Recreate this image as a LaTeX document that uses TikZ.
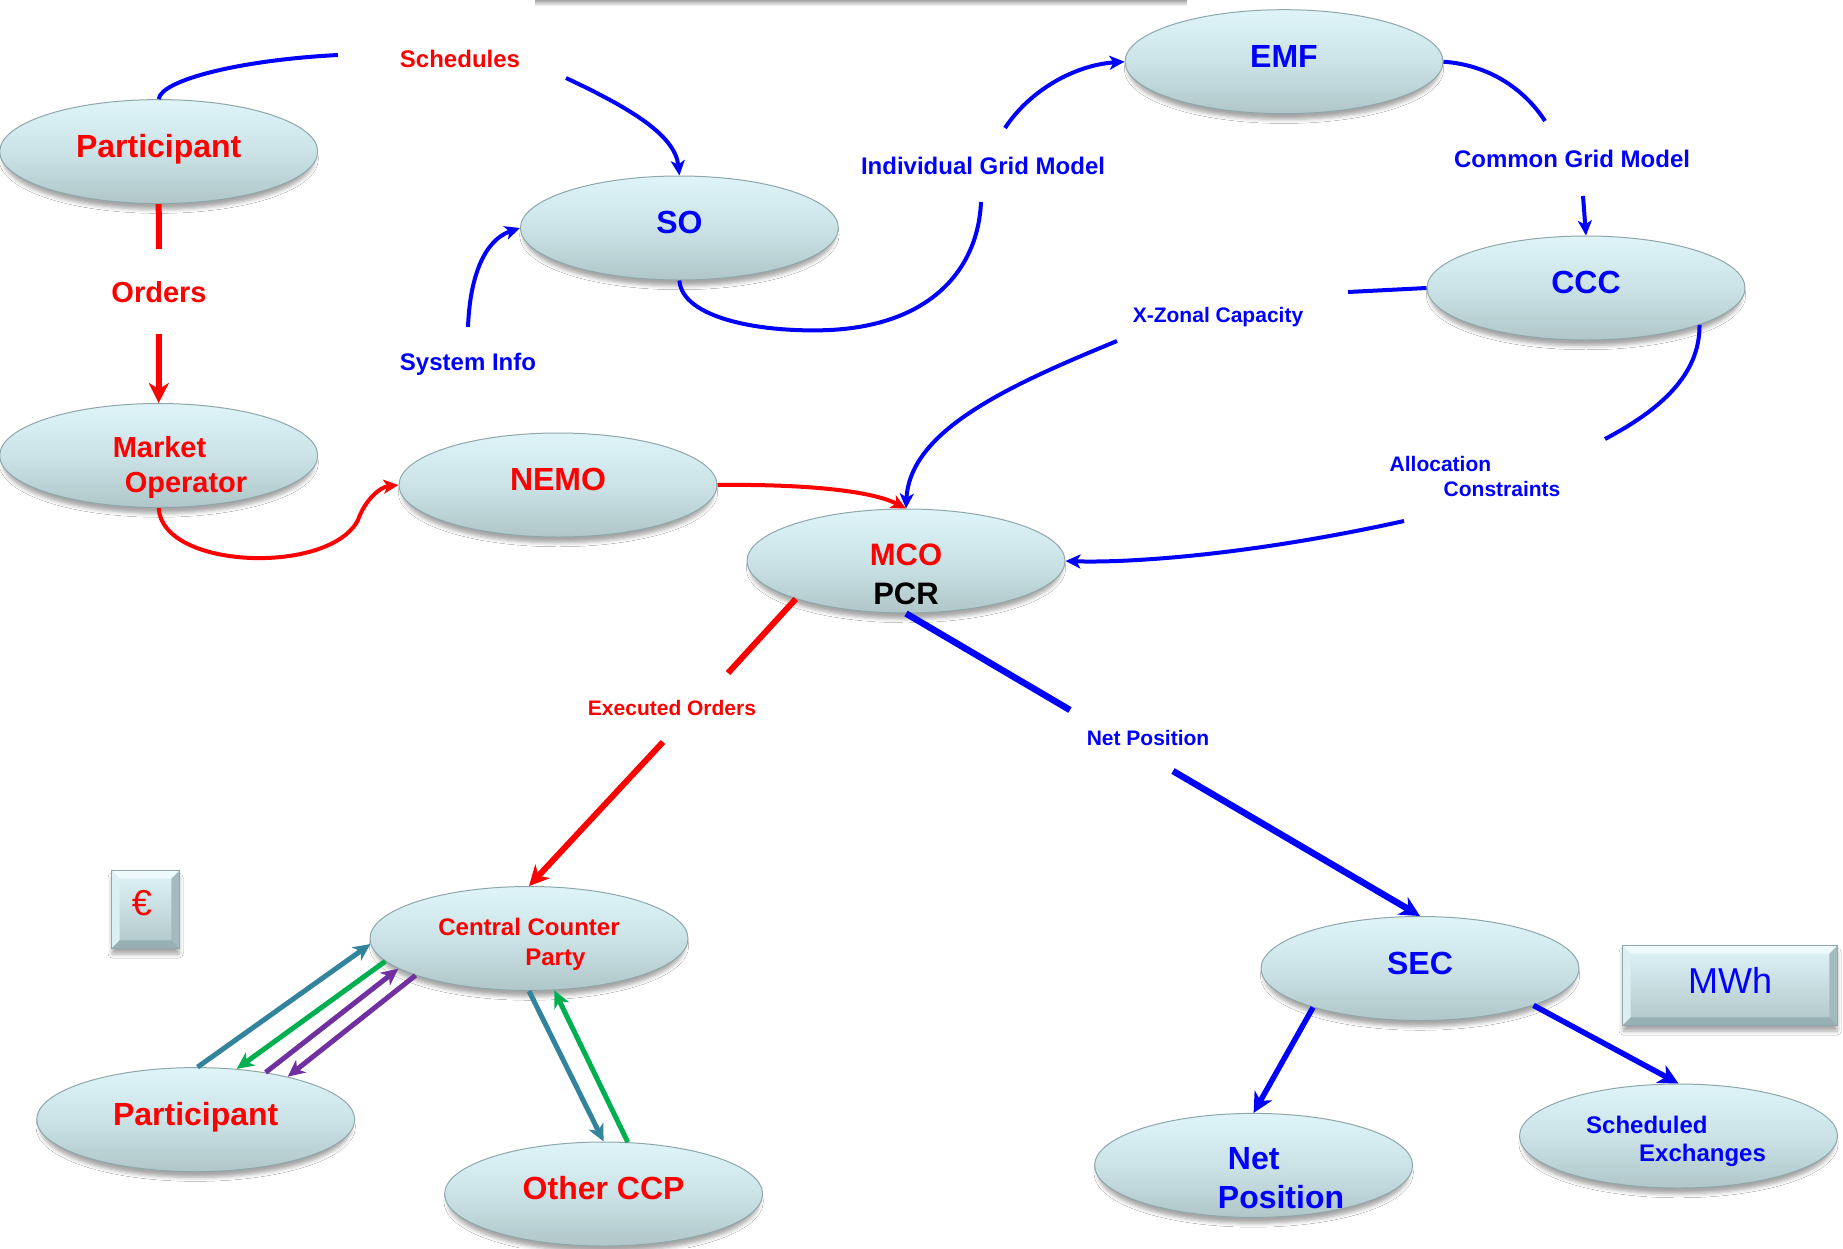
\documentclass[tikz,border=0pt]{standalone}
\usepackage{fontspec}
\setmainfont{Liberation Sans}
\usetikzlibrary{shapes.geometric,arrows.meta,shadows.blur}
\definecolor{myblue}{HTML}{0000FF}
\definecolor{myred}{HTML}{FF0000}
\definecolor{elltop}{HTML}{DEF4F8}
\definecolor{ellmid}{HTML}{CBE3E7}
\definecolor{ellbot}{HTML}{B0C6C9}
\definecolor{ellrim}{HTML}{8FA7AA}
\definecolor{bevlight}{HTML}{EEFAFC}
\definecolor{bevleft}{HTML}{DCF0F3}
\definecolor{bevright}{HTML}{A3BBBE}
\definecolor{bevbot}{HTML}{97B0B3}
\definecolor{tealc}{HTML}{31849B}
\definecolor{greenc}{HTML}{00B050}
\definecolor{purplec}{HTML}{7030A0}
\newcommand{\bevelbox}[2]{%
  \fill[bevlight] (#1.north west) -- (#1.north east) -- ([shift={(-#2,#2)}]#1.north east) -- ([shift={(#2,#2)}]#1.north west) -- cycle;
  \fill[bevleft] (#1.north west) -- (#1.south west) -- ([shift={(#2,-#2)}]#1.south west) -- ([shift={(#2,#2)}]#1.north west) -- cycle;
  \fill[bevright] (#1.north east) -- (#1.south east) -- ([shift={(-#2,-#2)}]#1.south east) -- ([shift={(-#2,#2)}]#1.north east) -- cycle;
  \fill[bevbot] (#1.south west) -- (#1.south east) -- ([shift={(-#2,-#2)}]#1.south east) -- ([shift={(#2,-#2)}]#1.south west) -- cycle;
  \draw[ellrim, line width=0.8pt] (#1.north west) rectangle (#1.south east);
}
\begin{document}
\begin{tikzpicture}[x=1pt,y=-1pt,
  ell/.style={ellipse, minimum width=318pt, minimum height=104pt, inner sep=0pt,
    draw=ellrim, line width=1pt, top color=elltop, bottom color=ellbot, middle color=ellmid,
    blur shadow={shadow xshift=0pt, shadow yshift=-7pt, shadow blur radius=4pt, shadow opacity=35, shadow scale=0.98},
    font=\fontsize{32}{38}\selectfont\bfseries, text height=23pt, text depth=12pt},
  boxs/.style={rectangle, draw=ellrim, line width=0.8pt, top color=elltop, bottom color=ellbot,
    inner sep=0pt, blur shadow={shadow xshift=0pt, shadow yshift=-6pt, shadow blur radius=4pt, shadow opacity=35},
    font=\fontsize{36}{40}\selectfont, text height=26pt, text depth=10pt},
  lbl/.style={inner sep=0pt, font=\fontsize{24}{29}\selectfont\bfseries, text height=17pt, text depth=0pt},
  lblsm/.style={inner sep=0pt, font=\fontsize{21}{25}\selectfont\bfseries, text height=15pt, text depth=0pt},
  lblml/.style={inner sep=0pt, align=left, font=\fontsize{21}{25}\selectfont\bfseries},
  bcon/.style={draw=myblue, line width=4pt},
  bthick/.style={draw=myblue, line width=6.5pt},
  bmid/.style={draw=myblue, line width=5.5pt},
  rcon/.style={draw=myred, line width=4pt},
  rthick/.style={draw=myred, line width=6pt},
  btip/.style={-{Stealth[length=15pt,width=14pt,inset=4pt]}},
  bigtip/.style={-{Stealth[length=20pt,width=20pt,inset=6pt]}},
  ctip/.style={-{Stealth[length=17pt,width=16pt,inset=5pt]}},
  tcon/.style={draw=tealc, line width=5pt, ctip},
  gcon/.style={draw=greenc, line width=5pt, ctip},
  pcon/.style={draw=purplec, line width=5pt, ctip}
]
\path[use as bounding box, fill=white] (0,0) rectangle (1843,1248);
\fill[top color=gray!70, bottom color=gray!15] (535,0) rectangle (1187,5);

% ellipse nodes
\node[ell, text=myred] (p1) at (158.7,151.6) {Participant};
\node[ell, text=myblue] (so) at (679.4,228) {SO};
\node[ell, text=myblue] (emf) at (1284,61.7) {EMF};
\node[ell, text=myblue] (ccc) at (1586,288) {CCC};
\node[ell] (mo) at (158.7,455.5) {};
\node[ell, text=myred] (nemo) at (558,485) {NEMO};
\node[ell] (mco) at (906,561) {};
\node[ell] (ccp) at (529,938.5) {};
\node[ell, text=myred] (p2) at (195.7,1119.6) {Participant};
\node[ell, text=myred] (occp) at (603.6,1194) {Other CCP};
\node[ell, text=myblue] (sec) at (1420,968.5) {SEC};
\node[ell] (np) at (1253.6,1165.4) {};
\node[ell] (se) at (1678.5,1136) {};

% multi-line node texts
\node[inner sep=0pt, align=left, text=myred, font=\fontsize{29}{35}\selectfont\bfseries] (mot) at (180,467.5) {Market\\\hspace*{12pt}Operator};
\node[inner sep=0pt, align=center, font=\fontsize{31}{39}\selectfont\bfseries] (mcot) at (906,574.5) {\textcolor{myred}{MCO}\\PCR};
\node[inner sep=0pt, align=left, text=myred, font=\fontsize{24}{30}\selectfont\bfseries] (ccpt) at (529,944.5) {Central Counter\\\hspace*{87pt}Party};
\node[inner sep=0pt, align=left, text=myblue, font=\fontsize{32}{39}\selectfont\bfseries] (npt) at (1281,1178.5) {\hspace*{10pt}Net\\Position};
\node[inner sep=0pt, align=left, text=myblue, font=\fontsize{24}{28}\selectfont\bfseries] (set) at (1676,1141.5) {Scheduled\\\hspace*{53pt}Exchanges};

% boxes
\node[boxs, minimum width=67pt, minimum height=77pt] (eur) at (145.5,909.5) {};
\bevelbox{eur}{8}
\node[inner sep=0pt, text=myred, font=\fontsize{36}{40}\selectfont] (eurt) at (142,903) {€};
\node[boxs, minimum width=214pt, minimum height=79pt] (mwh) at (1730,985.5) {};
\bevelbox{mwh}{8}
\node[inner sep=0pt, text=myblue, font=\fontsize{36}{40}\selectfont] (mwht) at (1730,980) {MWh};

% edge labels
\node[lbl, text=myred] (schl) at (460,59) {Schedules};
\node[inner sep=0pt, text=myred, font=\fontsize{29}{34}\selectfont\bfseries, text height=21pt, text depth=0pt] (ordl) at (159,292) {Orders};
\node[lbl, text=myblue] (igml) at (983,166) {Individual Grid Model};
\node[lbl, text=myblue] (sil) at (468,362) {System Info};
\node[lbl, text=myblue] (cgml) at (1572,159) {Common Grid Model};
\node[lblsm, text=myblue] (xzl) at (1218,315) {X-Zonal Capacity};
\node[lblml, text=myblue] (acl) at (1475,476) {Allocation\\\hspace*{54pt}Constraints};
\node[lblsm, text=myred] (eol) at (672,708) {Executed Orders};
\node[lblsm, text=myblue] (npl) at (1148,738) {Net Position};

% free ends
\coordinate (sch1) at (338,55);
\coordinate (sch2) at (566,78);
\coordinate (or1) at (159,249);
\coordinate (or2) at (159,334);
\coordinate (ig1) at (981,202);
\coordinate (ig2) at (1005,128);
\coordinate (si1) at (468,327);
\coordinate (cg1) at (1545,121);
\coordinate (cg2) at (1583,196);
\coordinate (xz1) at (1348,292);
\coordinate (xz2) at (1117,341);
\coordinate (al1) at (1605,439);
\coordinate (al2) at (1404,521);
\coordinate (eo1) at (728,673);
\coordinate (eo2) at (663,742);
\coordinate (np1) at (1070,710);
\coordinate (np2) at (1173,771);

% connectors
\draw[bcon] (p1.north) .. controls (161,80) and (240,60) .. (sch1);
\draw[bcon, btip] (sch2) .. controls (630,108) and (675,135) .. (so.north);
\draw[rthick] (p1.south) -- (or1);
\draw[rthick, bigtip] (or2) -- (mo.north);
\draw[bcon] (so.south) .. controls (682,318) and (760,333) .. (830,330) .. controls (930,325) and (978,270) .. (ig1);
\draw[bcon, btip] (ig2) .. controls (1030,90) and (1075,65) .. (emf.west);
\draw[bcon, btip] (si1) .. controls (470,275) and (485,240) .. (so.west);
\draw[bcon] (emf.east) .. controls (1490,65) and (1525,90) .. (cg1);
\draw[bcon, btip] (cg2) -- (ccc.north);
\draw[bcon] (ccc.west) -- (xz1);
\draw[bcon, btip] (xz2) .. controls (1010,385) and (910,430) .. (mco.north);
\draw[bcon] (ccc.-18) .. controls (1700,375) and (1660,410) .. (al1);
\draw[bcon, btip] (al2) .. controls (1250,555) and (1130,563) .. (mco.east);
\draw[rcon, btip] (mo.south) .. controls (162,570) and (330,575) .. (358,520) .. controls (365,500) and (380,487) .. (nemo.west);
\draw[rcon, btip] (nemo.east) .. controls (800,484) and (870,490) .. (mco.north);
\draw[rthick] (mco.-161) -- (eo1);
\draw[rthick, bigtip] (eo2) -- (ccp.north);
\draw[bthick] (mco.south) -- (np1);
\draw[bthick, bigtip] (np2) -- (sec.north);
\draw[bmid, bigtip] (sec.-160) -- (np.north);
\draw[bmid, bigtip] (sec.-18) -- (se.north);
\draw[tcon] (p2.88) -- (ccp.182);
\draw[gcon] (ccp.189) -- (p2.51);
\draw[pcon] (p2.34) -- (ccp.193);
\draw[pcon] (ccp.198) -- (p2.25);
\draw[tcon] (ccp.south) -- (occp.north);
\draw[gcon] (occp.65) -- (ccp.-64);
\end{tikzpicture}
\end{document}
